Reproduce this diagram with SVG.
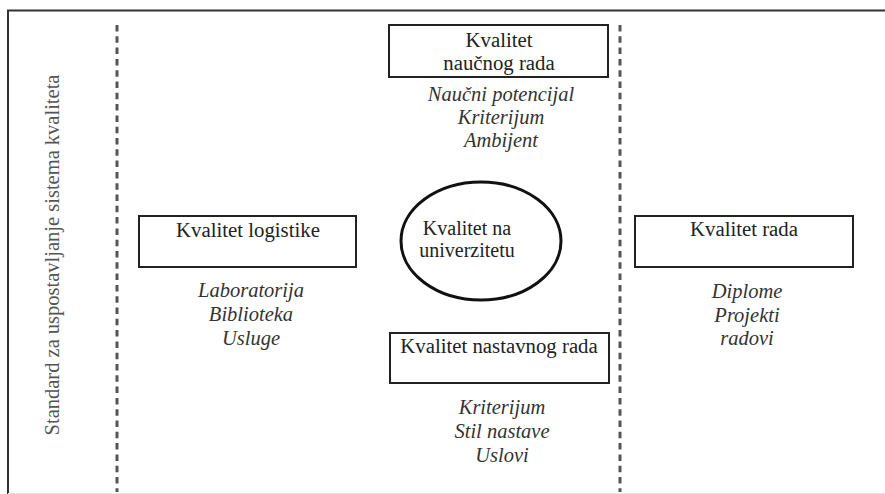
<svg xmlns="http://www.w3.org/2000/svg" width="885" height="494" viewBox="0 0 885 494">
  <style>
    .frame { fill: none; stroke: #333; stroke-width: 2; }
    .divider { fill: none; stroke: #555; stroke-width: 3; stroke-dasharray: 6.5 4.8; }
    .box { fill: #fff; stroke: #222; stroke-width: 2; }
    .ell { fill: #fff; stroke: #111; stroke-width: 3; }
    text { font-family: 'Liberation Serif', Tinos, 'DejaVu Serif', serif; }
    .t { font-size: 20.8px; fill: #222; text-anchor: middle; }
    .e { font-size: 20px; fill: #222; text-anchor: middle; }
    .it { font-size: 20.5px; font-style: italic; fill: #333; text-anchor: middle; }
    .side { font-size: 20.5px; fill: #555; text-anchor: middle; }
  </style>
  <rect width="885" height="494" fill="#fff"/>
  <g id="frame">
    <path class="frame" d="M8,494 V10.5 H885"/>
    <line x1="8" y1="493.5" x2="885" y2="493.5" stroke="#e6e6e6" stroke-width="1"/>
  </g>
  <g id="connectors">
    <line class="divider" x1="117" y1="25" x2="117" y2="492"/>
    <line class="divider" x1="620" y1="25" x2="620" y2="492"/>
  </g>
  <g id="standard">
    <text class="side" transform="translate(59,255) rotate(-90)">Standard za uspostavljanje sistema kvaliteta</text>
  </g>
  <g id="naucni">
    <rect class="box" x="389" y="25" width="219" height="52"/>
    <text class="t" x="499" y="47">Kvalitet</text>
    <text class="t" x="499" y="70">naučnog rada</text>
    <text class="it" x="501" y="101">Naučni potencijal</text>
    <text class="it" x="501" y="124">Kriterijum</text>
    <text class="it" x="501" y="147">Ambijent</text>
  </g>
  <g id="logistika">
    <rect class="box" x="139" y="216" width="217" height="51"/>
    <text class="t" x="248" y="237">Kvalitet logistike</text>
    <text class="it" x="251" y="297">Laboratorija</text>
    <text class="it" x="251" y="321">Biblioteka</text>
    <text class="it" x="251" y="345">Usluge</text>
  </g>
  <g id="univerzitet">
    <ellipse class="ell" cx="481" cy="241" rx="80" ry="59"/>
    <text class="e" x="467" y="235">Kvalitet na</text>
    <text class="e" x="467" y="257">univerzitetu</text>
  </g>
  <g id="rad">
    <rect class="box" x="635" y="216" width="218" height="51"/>
    <text class="t" x="744" y="236">Kvalitet rada</text>
    <text class="it" x="747" y="298">Diplome</text>
    <text class="it" x="747" y="322">Projekti</text>
    <text class="it" x="747" y="345">radovi</text>
  </g>
  <g id="nastava">
    <rect class="box" x="390" y="333" width="219" height="50"/>
    <text class="t" x="499" y="353">Kvalitet nastavnog rada</text>
    <text class="it" x="502" y="414">Kriterijum</text>
    <text class="it" x="502" y="438">Stil nastave</text>
    <text class="it" x="502" y="462">Uslovi</text>
  </g>
</svg>
